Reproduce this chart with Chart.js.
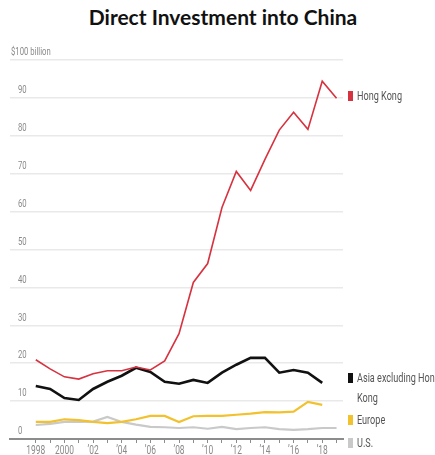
<!doctype html>
<html>
<head>
<meta charset="UTF-8">
<title>Direct Investment into China</title>
<script src="https://cdn.jsdelivr.net/npm/chart.js@4.4.1/dist/chart.umd.min.js"></script>
<style>
  body { margin: 0; background: #fff; }
  #wrap { position: relative; width: 435px; height: 455px; }
  h1 { position: absolute; left: 0; top: 4px; width: 446px; margin: 0; text-align: center;
       font: bold 21px Lato, "Open Sans", sans-serif; color: #111; }
  canvas { position: absolute; left: 0; top: 0; }
</style>
</head>
<body>
<div id="wrap">
  <h1>Direct Investment into China</h1>
  <canvas id="canvas" width="435" height="455"></canvas>
</div>
<script>
// values in $ billion
var years = [1998,1999,2000,2001,2002,2003,2004,2005,2006,2007,2008,2009,2010,2011,2012,2013,2014,2015,2016,2017,2018,2019];
var hongKong = [20.9,18.5,16.4,15.8,17.2,18.0,18.0,19.0,18.2,20.6,27.8,41.3,46.3,61.1,70.6,65.6,73.8,81.5,86.2,81.7,94.4,89.9];
var asiaExHK = [14.0,13.2,10.8,10.3,13.2,15.1,16.7,18.8,17.7,15.1,14.6,15.6,14.8,17.5,19.6,21.4,21.4,17.5,18.2,17.5,14.8];
var europe = [4.5,4.5,5.2,5.0,4.5,4.2,4.5,5.2,6.1,6.1,4.5,6.0,6.1,6.1,6.4,6.7,7.1,7.0,7.2,9.8,9.0];
var us = [3.7,4.0,4.5,4.5,4.6,5.8,4.5,3.8,3.2,3.1,2.9,3.1,2.7,3.2,2.6,2.9,3.1,2.6,2.4,2.6,2.9,2.9];

var yTicks = [0,10,20,30,40,50,60,70,80,90,100];
var yTickLabels = ['0','10','20','30','40','50','60','70','80','90','$100 billion'];
var xTickLabels = {1998:'1998',2000:'2000',2002:'\u201902',2004:'\u201904',2006:'\u201906',2008:'\u201908',
                   2010:'\u201910',2012:'\u201912',2014:'\u201914',2016:'\u201916',2018:'\u201918'};
var legendNames = ['Hong Kong','Asia excluding Hong Kong','Europe','U.S.'];
var colors = ['#d7323f','#111111','#f2c12e','#c9c9c9'];

function pts(arr) {
  var out = [];
  for (var i = 0; i < arr.length; i++) out.push({x: years[i], y: arr[i]});
  return out;
}

// the original uses a very condensed face, so squeeze Roboto sideways
function narrowText(ctx, txt, x, y, align) {
  ctx.save();
  ctx.translate(x, y);
  ctx.scale(0.7, 1);
  ctx.textAlign = align;
  ctx.fillText(txt, 0, 0);
  ctx.restore();
}

var overlay = {
  id: 'overlay',
  afterDraw: function(chart) {
    var ctx = chart.ctx;
    var y = chart.scales.y;
    var x = chart.scales.x;
    ctx.save();
    ctx.fillStyle = '#8a8a8a';
    ctx.font = '11px Roboto, sans-serif';
    ctx.textBaseline = 'bottom';
    for (var i = 0; i < yTicks.length; i++) {
      var px = yTicks[i] === 100 ? 11 : 18;
      narrowText(ctx, yTickLabels[i], px, y.getPixelForValue(yTicks[i]) - 2, 'left');
    }
    ctx.font = '12px Roboto, sans-serif';
    ctx.textBaseline = 'middle';
    for (var yr in xTickLabels) {
      narrowText(ctx, xTickLabels[yr], x.getPixelForValue(+yr), 451, 'center');
    }
    // legend
    var rows = [[96], [378, 398], [420], [443]];
    var lines = [['Hong Kong'], ['Asia excluding Hong', 'Kong'], ['Europe'], ['U.S.']];
    ctx.font = '13px Roboto, sans-serif';
    for (var j = 0; j < legendNames.length; j++) {
      ctx.fillStyle = colors[j];
      ctx.fillRect(348, rows[j][0] - 5, 5, 10);
      ctx.fillStyle = '#555';
      for (var k = 0; k < lines[j].length; k++) {
        narrowText(ctx, lines[j][k], 357, rows[j][k] + 1, 'left');
      }
    }
    ctx.restore();
  }
};

new Chart(document.getElementById('canvas').getContext('2d'), {
  type: 'line',
  data: {
    datasets: [
      {label: legendNames[0], data: pts(hongKong), borderColor: colors[0], borderWidth: 1.6},
      {label: legendNames[1], data: pts(asiaExHK), borderColor: colors[1], borderWidth: 2.6},
      {label: legendNames[2], data: pts(europe), borderColor: colors[2], borderWidth: 2.2},
      {label: legendNames[3], data: pts(us), borderColor: colors[3], borderWidth: 2.2}
    ]
  },
  options: {
    responsive: false,
    animation: false,
    elements: { point: { radius: 0 }, line: { tension: 0 } },
    layout: { padding: { left: 10, right: 92, top: 60, bottom: 12 } },
    plugins: { legend: { display: false }, tooltip: { enabled: false } },
    scales: {
      x: {
        type: 'linear',
        min: 1996.2,
        max: 2019.45,
        afterBuildTicks: function(scale) {
          scale.ticks = years.map(function(v) { return {value: v}; });
        },
        grid: { drawOnChartArea: false, drawTicks: true, tickLength: 4, color: '#8c8c8c', lineWidth: 1 },
        border: { display: true, color: '#8c8c8c', width: 2 },
        ticks: { display: false }
      },
      y: {
        min: 0,
        max: 100,
        afterBuildTicks: function(scale) {
          scale.ticks = yTicks.map(function(v) { return {value: v}; });
        },
        grid: { drawTicks: false, color: '#e9e9e9', lineWidth: 1.5 },
        border: { display: false },
        ticks: { display: false }
      }
    }
  },
  plugins: [overlay]
});
</script>
</body>
</html>
